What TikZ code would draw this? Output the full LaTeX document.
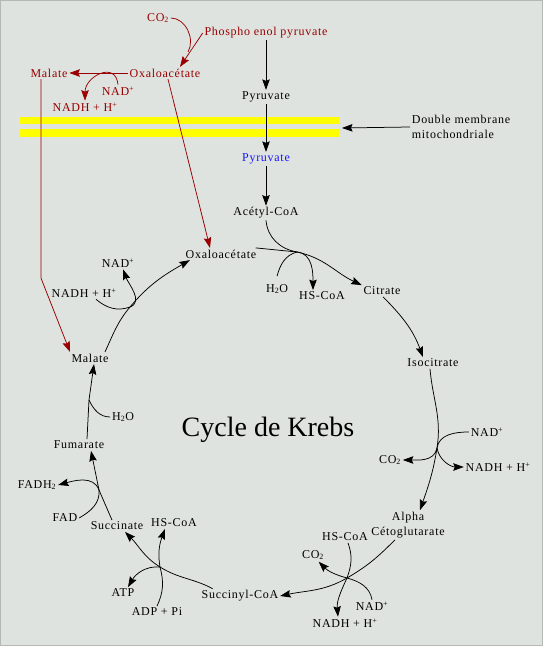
\documentclass[tikz,border=0pt]{standalone}
\usepackage{fontspec}
\setmainfont{Liberation Serif}[LetterSpace=6]
\newfontfamily\titlefont{Liberation Serif}
\usetikzlibrary{arrows.meta}

\definecolor{bggrey}{RGB}{223,227,223}
\definecolor{rimgrey}{RGB}{180,185,180}
\definecolor{mitored}{RGB}{153,0,0}
\definecolor{membyellow}{RGB}{255,255,0}
\definecolor{pyrblue}{RGB}{20,20,255}

\begin{document}
\begin{tikzpicture}[x=1pt, y=1pt, line width=0.75pt,
    tip/.style = {-{Stealth[length=10.5pt, width=7.5pt, inset=1.5pt]}},
    every node/.style = {font=\fontsize{12}{15}\selectfont, inner sep=1.5pt}]
    \fill[bggrey] (0,0) rectangle (543,646);
    \draw[rimgrey] (0.5,0.5) rectangle (542.5,645.5);
    \useasboundingbox (0,0) rectangle (543,646);
    % membrane bands
    \fill[membyellow] (20,521.7) rectangle (340,529.3);
    \fill[membyellow] (20,509.3) rectangle (340,517);
    % outside the mitochondrion
    \begin{scope}[every node/.append style = {text=mitored}]
      \node (co2r)  at (158,628) {CO\textsubscript{2}};
      \node (pepr)  at (266,613) {Phospho enol pyruvate};
      \node (oxar)  at (165,573) {Oxaloacétate};
      \node (malr)  at (49,573)  {Malate};
      \node (nadr)  at (118,555) {NAD\textsuperscript{+}};
      \node (nadhr) at (85,539)  {NADH + H\textsuperscript{+}};
    \end{scope}
    \node (pyr)  at (266,549) {Pyruvate};
    \node[align=left, anchor=west] (memb) at (410,519) {Double membrane\\mitochondriale};
    \coordinate (membend) at (342,518);
    \node[text=pyrblue] (pyrm) at (266,487) {Pyruvate};
    \node (acoa) at (266,433) {Acétyl-CoA};
    % the cycle
    \node (oxa)    at (221,392) {Oxaloacétate};
    \node (h2oa)   at (277,357) {H\textsubscript{2}O};
    \node (hscoaa) at (322,350) {HS-CoA};
    \node (cit)    at (382,355) {Citrate};
    \node (iso)    at (433,283) {Isocitrate};
    \node (nadb)   at (487,214) {NAD\textsuperscript{+}};
    \node (co2b)   at (390,186) {CO\textsubscript{2}};
    \node (nadhb)  at (498,179) {NADH + H\textsuperscript{+}};
    \node[align=center] (akg) at (408,121) {Alpha\\Cétoglutarate};
    \node (hscoac) at (345,109) {HS-CoA};
    \node (co2c)   at (313,91)  {CO\textsubscript{2}};
    \node (nadc)   at (372,40)  {NAD\textsuperscript{+}};
    \node (nadhc)  at (345,23)  {NADH + H\textsuperscript{+}};
    \node (sca)    at (240,50)  {Succinyl-CoA};
    \node (hscoad) at (174,123) {HS-CoA};
    \node (atp)    at (123,53)  {ATP};
    \node (adp)    at (157,34)  {ADP + Pi};
    \node (succ)   at (117,120) {Succinate};
    \node (fadh)   at (37,161)  {FADH\textsubscript{2}};
    \node (fad)    at (65,128)  {FAD};
    \node (fum)    at (79,201)  {Fumarate};
    \node (h2oe)   at (123,229) {H\textsubscript{2}O};
    \node (mal)    at (90,288)  {Malate};
    \node (nadf)   at (118,383) {NAD\textsuperscript{+}};
    \node (nadhf)  at (84,353)  {NADH + H\textsuperscript{+}};
    \node[font=\titlefont\fontsize{28}{32}\selectfont] (title) at (268,216) {Cycle de Krebs};
    % junctions on the cycle
    \coordinate (jr) at (188,594);
    \coordinate (ja) at (297,394);
    \coordinate (jb) at (437,198);
    \coordinate (jc) at (347,68);
    \coordinate (jd) at (160,79);
    \coordinate (je) at (99,156);
    \coordinate (jf) at (89,246);
    \coordinate (jg) at (130,339);
    % red pathway
    \begin{scope}[mitored]
      \draw[tip] (pepr.west) -- ([xshift=15pt]oxar.north);
      \draw (co2r.east) to [out=0, in=60] (jr);
      \draw[tip] (oxar.west) -- (malr.east);
      \draw[tip] (nadr.north) to [out=95, in=90, looseness=1.7] (nadhr.north);
      \draw[tip] ([xshift=-8pt]malr.south) -- ++(0,-199) -- ([xshift=-20pt]mal.north);
      \draw[tip] ([xshift=3pt]oxar.south) -- ([xshift=-11pt]oxa.north);
    \end{scope}
    % into the matrix
    \draw[tip] (pepr.south) -- (pyr.north);
    \draw[tip] (pyr.south) -- (pyrm.north);
    \draw[tip] (pyrm.south) -- (acoa.north);
    \draw[tip] (memb.west) -- (membend);
    % citrate
    \draw (acoa.south) to [out=-85, in=170] (ja);
    \draw (oxa.10) -- (ja);
    \draw[tip] (ja) to [out=-12, in=155] (cit.north west);
    \draw ([yshift=6pt]h2oa.north) to [out=75, in=195] (ja);
    \draw[tip] (ja) to [out=-5, in=90] ([xshift=-9pt]hscoaa.north);
    \draw[tip] (cit.-80) to [out=-45, in=110] ([xshift=-10pt]iso.north);
    % isocitrate -> alpha cetoglutarate
    \draw[tip] ([xshift=-3pt]iso.south) to [out=-85, in=81] (jb) to [out=-99, in=71] ([xshift=12pt]akg.north);
    \draw (nadb.west) to [out=180, in=81] (jb);
    \draw[tip] (jb) to [out=-100, in=0] (co2b.east);
    \draw[tip] (jb) to [out=-80, in=180] (nadhb.west);
    % alpha cetoglutarate -> succinyl-CoA
    \draw[tip] ([xshift=-13pt]akg.south) to [out=-135, in=30] (jc) to [out=-150, in=12] (sca.east);
    \draw ([xshift=3pt]hscoac.south) to [out=-70, in=70] (jc);
    \draw[tip] (jc) to [out=165, in=-45] (co2c.-50);
    \draw (nadc.north) to [out=100, in=-15] (jc);
    \draw[tip] (jc) to [out=-115, in=95] ([xshift=-7pt]nadhc.north);
    % succinyl-CoA -> succinate
    \draw[tip] (sca.165) to [out=152, in=-32] (jd) to [out=148, in=-45] ([xshift=8pt]succ.south);
    \draw[tip] (jd) to [out=100, in=-110] ([xshift=-9pt]hscoad.south);
    \draw[tip] (jd) to [out=175, in=60] ([xshift=5pt]atp.north);
    \draw (adp.north) to [out=65, in=-75] (jd);
    % succinate -> fumarate -> malate
    \draw[tip] ([xshift=-5pt]succ.north) -- (je) -- ([xshift=12pt]fum.south);
    \draw[tip] (je) to [out=110, in=15] (fadh.east);
    \draw (fad.east) to [out=30, in=-85] (je);
    \draw[tip] ([xshift=8pt]fum.north) -- (jf) -- ([xshift=4pt]mal.south);
    \draw (h2oe.west) to [out=180, in=-65] (jf);
    % malate -> oxaloacetate
    \draw[tip] ([xshift=15pt]mal.north) to [out=65, in=-130] (jg) to [out=50, in=-150] ([xshift=6pt]oxa.south west);
    \draw ([xshift=12pt]nadhf.south) to [out=-40, in=200] (jg);
    \draw[tip] (jg) to [out=20, in=-70] ([xshift=5pt]nadf.south);
  \end{tikzpicture}
\end{document}
